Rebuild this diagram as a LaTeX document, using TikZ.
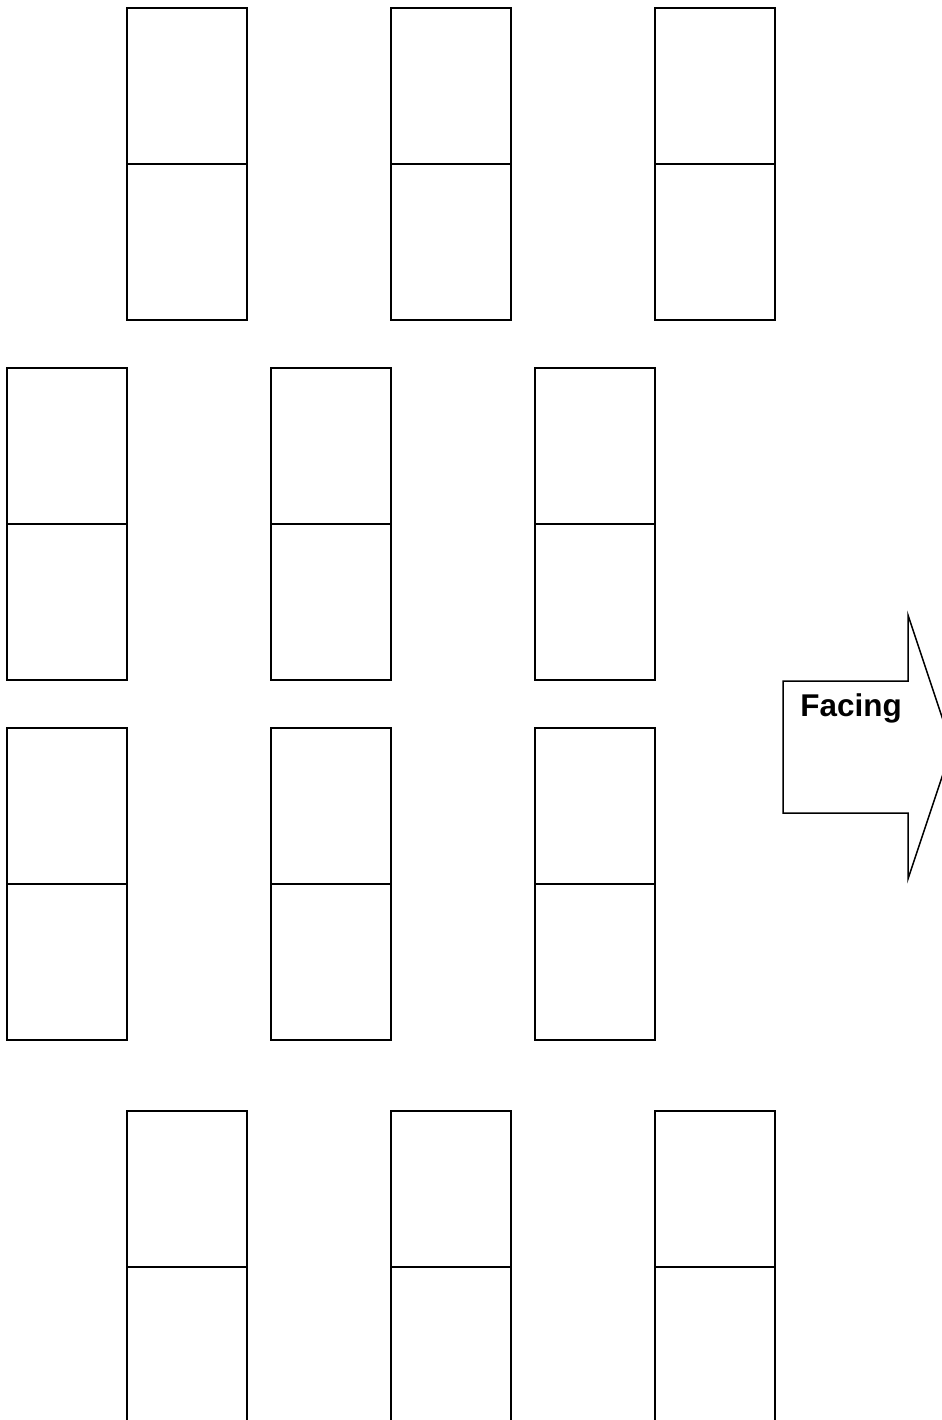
\documentclass[tikz,border=0pt]{standalone}
\usepackage{fontspec}
\setsansfont{Liberation Sans}
\usetikzlibrary{positioning}

\begin{document}
\begin{tikzpicture}[x=0.02cm,y=-0.02cm,
        desk/.style={draw,line width=0.85pt,minimum width=2.4cm,minimum height=6.24cm,inner sep=0pt,outer sep=0pt},
        split/.style={line width=0.85pt}]
        \useasboundingbox (0,0) rectangle (942,1420);
        \clip (0,0) rectangle (942,1420);
        % front and back rows
        \foreach \c/\x in {1/187,2/451,3/715} {
            \node[desk] (front\c) at (\x,164) {};
            \draw[split] (front\c.west) -- (front\c.east);
            \node[desk] (back\c) at (\x,1267) {};
            \draw[split] (back\c.west) -- (back\c.east);
        }
        % middle rows
        \foreach \c/\x in {1/67,2/331,3/595} {
            \node[desk] (midA\c) at (\x,524) {};
            \draw[split] (midA\c.west) -- (midA\c.east);
            \node[desk] (midB\c) at (\x,884) {};
            \draw[split] (midB\c.west) -- (midB\c.east);
        }
        % facing arrow
        \draw[line width=0.85pt,line join=miter] (783,681) -- (908,681) -- (908,615) -- (952,747)
            -- (908,879) -- (908,813) -- (783,813) -- cycle;
        \node[font=\sffamily\bfseries\fontsize{17.9}{21}\selectfont,anchor=base west,inner sep=0pt] (facing) at (800,716) {Facing};
    \end{tikzpicture}
\end{document}
